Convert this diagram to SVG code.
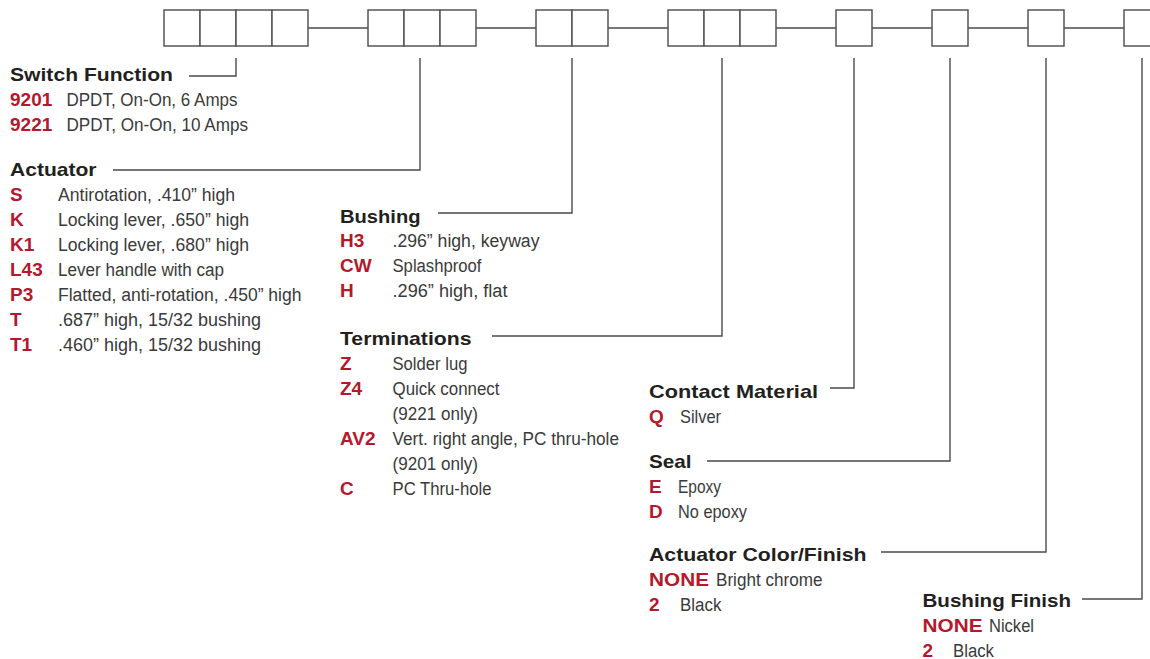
<svg xmlns="http://www.w3.org/2000/svg" width="1150" height="659" viewBox="0 0 1150 659">
<style>
.bx{fill:#fff;stroke:#555;stroke-width:1.5}
.ln{fill:none;stroke:#4a4a4a;stroke-width:1.4}
.t{font-family:"Liberation Sans",Arial,sans-serif;font-weight:bold;font-size:19px;fill:#231f20}
.c{font-family:"Liberation Sans",Arial,sans-serif;font-weight:bold;font-size:19px;fill:#b5182d}
.d{font-family:"Liberation Sans",Arial,sans-serif;font-size:18px;fill:#3a3a3a}
</style>
<rect width="1150" height="659" fill="#fff"/>
<g id="connectors">
<path class="ln" d="M308,28H368M476,28H536M608,28H668M776,28H836M872,28H932M968,28H1028M1064,28H1124"/>
<path class="ln" d="M189,76H236V58"/>
<path class="ln" d="M113,170H420V58"/>
<path class="ln" d="M438,213H572V58"/>
<path class="ln" d="M492,336H722V58"/>
<path class="ln" d="M830,388H854V58"/>
<path class="ln" d="M707,461H950V58"/>
<path class="ln" d="M881,552H1046V58"/>
<path class="ln" d="M1082,599H1142V58"/>
</g>
<g id="code-boxes">
<rect class="bx" x="164" y="10" width="36" height="36"/>
<rect class="bx" x="200" y="10" width="36" height="36"/>
<rect class="bx" x="236" y="10" width="36" height="36"/>
<rect class="bx" x="272" y="10" width="36" height="36"/>
<rect class="bx" x="368" y="10" width="36" height="36"/>
<rect class="bx" x="404" y="10" width="36" height="36"/>
<rect class="bx" x="440" y="10" width="36" height="36"/>
<rect class="bx" x="536" y="10" width="36" height="36"/>
<rect class="bx" x="572" y="10" width="36" height="36"/>
<rect class="bx" x="668" y="10" width="36" height="36"/>
<rect class="bx" x="704" y="10" width="36" height="36"/>
<rect class="bx" x="740" y="10" width="36" height="36"/>
<rect class="bx" x="836" y="10" width="36" height="36"/>
<rect class="bx" x="932" y="10" width="36" height="36"/>
<rect class="bx" x="1028" y="10" width="36" height="36"/>
<rect class="bx" x="1124" y="10" width="36" height="36"/>
</g>
<g id="switch-function">
<text class="t" x="10" y="81" textLength="163" lengthAdjust="spacingAndGlyphs">Switch Function</text>
<text class="c" x="10" y="106">9201</text>
<text class="d" x="66.5" y="106" textLength="171" lengthAdjust="spacingAndGlyphs">DPDT, On-On, 6 Amps</text>
<text class="c" x="10" y="131">9221</text>
<text class="d" x="66.5" y="131" textLength="181.5" lengthAdjust="spacingAndGlyphs">DPDT, On-On, 10 Amps</text>
</g>
<g id="actuator">
<text class="t" x="10" y="176" textLength="86.5" lengthAdjust="spacingAndGlyphs">Actuator</text>
<text class="c" x="10" y="201">S</text>
<text class="d" x="58" y="201" textLength="177" lengthAdjust="spacingAndGlyphs">Antirotation, .410” high</text>
<text class="c" x="10" y="226">K</text>
<text class="d" x="58" y="226" textLength="191" lengthAdjust="spacingAndGlyphs">Locking lever, .650” high</text>
<text class="c" x="10" y="251">K1</text>
<text class="d" x="58" y="251" textLength="191" lengthAdjust="spacingAndGlyphs">Locking lever, .680” high</text>
<text class="c" x="10" y="276">L43</text>
<text class="d" x="58" y="276" textLength="166" lengthAdjust="spacingAndGlyphs">Lever handle with cap</text>
<text class="c" x="10" y="301">P3</text>
<text class="d" x="58" y="301" textLength="243.5" lengthAdjust="spacingAndGlyphs">Flatted, anti-rotation, .450” high</text>
<text class="c" x="10" y="326">T</text>
<text class="d" x="58" y="326" textLength="203" lengthAdjust="spacingAndGlyphs">.687” high, 15/32 bushing</text>
<text class="c" x="10" y="351">T1</text>
<text class="d" x="58" y="351" textLength="203" lengthAdjust="spacingAndGlyphs">.460” high, 15/32 bushing</text>
</g>
<g id="bushing">
<text class="t" x="340" y="222.5" textLength="80.5" lengthAdjust="spacingAndGlyphs">Bushing</text>
<text class="c" x="340" y="247">H3</text>
<text class="d" x="392.5" y="247" textLength="147" lengthAdjust="spacingAndGlyphs">.296” high, keyway</text>
<text class="c" x="340" y="272">CW</text>
<text class="d" x="392.5" y="272" textLength="89" lengthAdjust="spacingAndGlyphs">Splashproof</text>
<text class="c" x="340" y="297">H</text>
<text class="d" x="392.5" y="297" textLength="115" lengthAdjust="spacingAndGlyphs">.296” high, flat</text>
</g>
<g id="terminations">
<text class="t" x="340" y="345" textLength="131.5" lengthAdjust="spacingAndGlyphs">Terminations</text>
<text class="c" x="340" y="370">Z</text>
<text class="d" x="392.5" y="370" textLength="75" lengthAdjust="spacingAndGlyphs">Solder lug</text>
<text class="c" x="340" y="395">Z4</text>
<text class="d" x="392.5" y="395" textLength="107" lengthAdjust="spacingAndGlyphs">Quick connect</text>
<text class="d" x="392.5" y="420" textLength="85.5" lengthAdjust="spacingAndGlyphs">(9221 only)</text>
<text class="c" x="340" y="445">AV2</text>
<text class="d" x="392.5" y="445" textLength="226.5" lengthAdjust="spacingAndGlyphs">Vert. right angle, PC thru-hole</text>
<text class="d" x="392.5" y="470" textLength="85.5" lengthAdjust="spacingAndGlyphs">(9201 only)</text>
<text class="c" x="340" y="495">C</text>
<text class="d" x="392.5" y="495" textLength="99" lengthAdjust="spacingAndGlyphs">PC Thru-hole</text>
</g>
<g id="contact-material">
<text class="t" x="649" y="398" textLength="169" lengthAdjust="spacingAndGlyphs">Contact Material</text>
<text class="c" x="649" y="423">Q</text>
<text class="d" x="680" y="423" textLength="41" lengthAdjust="spacingAndGlyphs">Silver</text>
</g>
<g id="seal">
<text class="t" x="649" y="468" textLength="42.5" lengthAdjust="spacingAndGlyphs">Seal</text>
<text class="c" x="649" y="493">E</text>
<text class="d" x="678" y="493" textLength="43" lengthAdjust="spacingAndGlyphs">Epoxy</text>
<text class="c" x="649" y="518">D</text>
<text class="d" x="678" y="518" textLength="69" lengthAdjust="spacingAndGlyphs">No epoxy</text>
</g>
<g id="actuator-color-finish">
<text class="t" x="649" y="561" textLength="217.5" lengthAdjust="spacingAndGlyphs">Actuator Color/Finish</text>
<text class="c" x="649" y="586" textLength="60" lengthAdjust="spacingAndGlyphs">NONE</text>
<text class="d" x="716" y="586" textLength="106.5" lengthAdjust="spacingAndGlyphs">Bright chrome</text>
<text class="c" x="649" y="611">2</text>
<text class="d" x="680" y="611" textLength="41.5" lengthAdjust="spacingAndGlyphs">Black</text>
</g>
<g id="bushing-finish">
<text class="t" x="922.5" y="607" textLength="148.5" lengthAdjust="spacingAndGlyphs">Bushing Finish</text>
<text class="c" x="922.5" y="632" textLength="60" lengthAdjust="spacingAndGlyphs">NONE</text>
<text class="d" x="989" y="632" textLength="45" lengthAdjust="spacingAndGlyphs">Nickel</text>
<text class="c" x="922.5" y="657">2</text>
<text class="d" x="953" y="657" textLength="41" lengthAdjust="spacingAndGlyphs">Black</text>
</g>
</svg>
